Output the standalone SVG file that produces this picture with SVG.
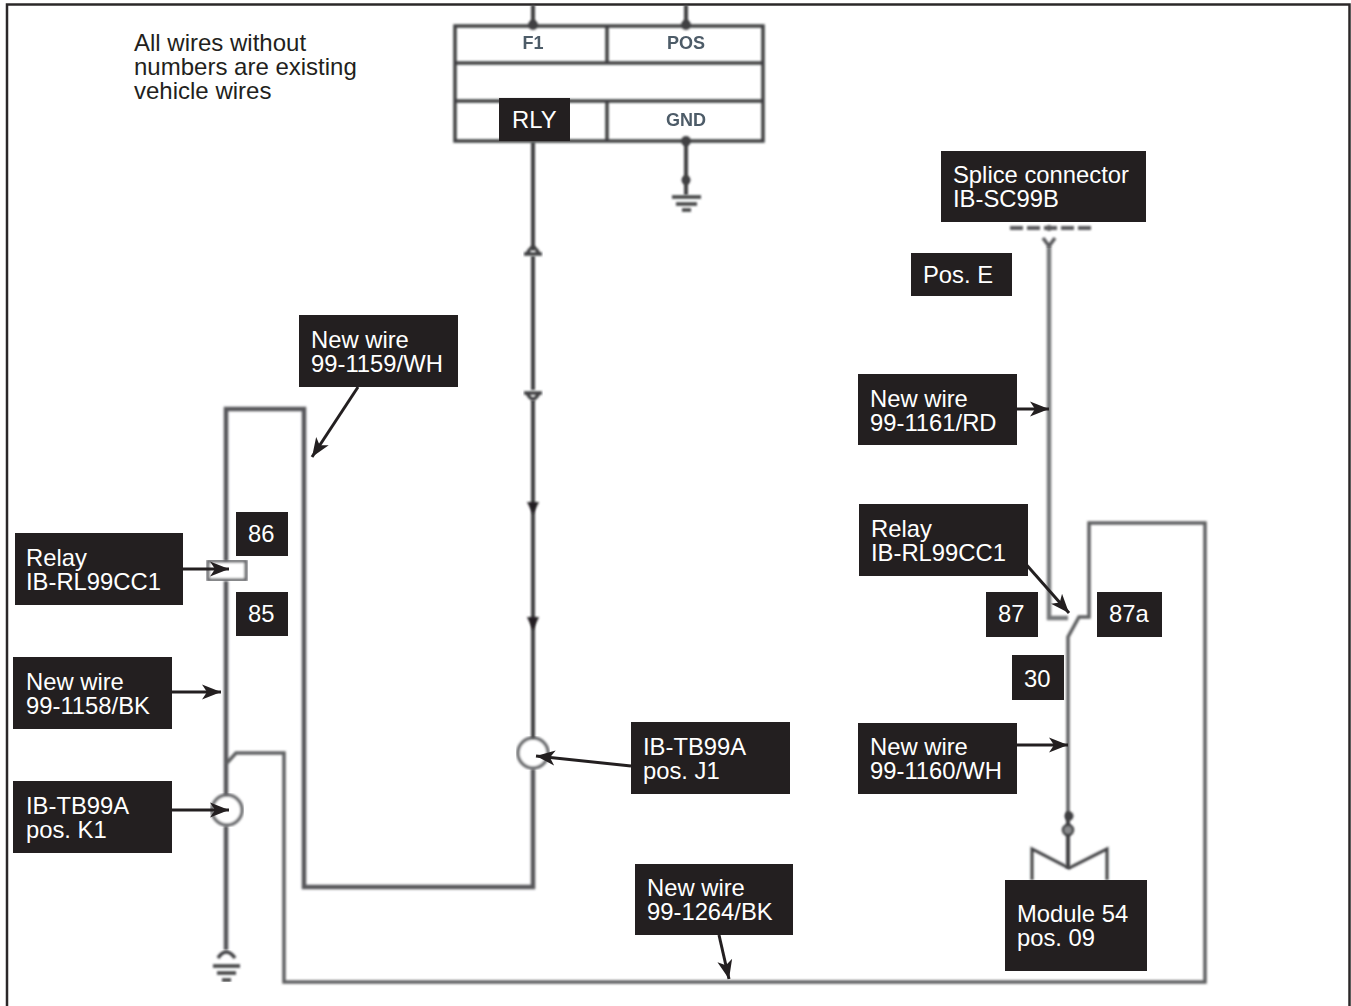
<svg xmlns="http://www.w3.org/2000/svg" width="1351" height="1006" viewBox="0 0 1351 1006">
<defs>
<marker id="ah" markerUnits="userSpaceOnUse" markerWidth="22" markerHeight="16" refX="19" refY="8" orient="auto"><path d="M0 0.500L19 8L0 15.500L5 8Z" fill="#231f20"/></marker>
<filter id="b" x="-5%" y="-5%" width="110%" height="110%"><feGaussianBlur stdDeviation="0.8"/></filter>
<filter id="c" x="-20%" y="-20%" width="140%" height="140%"><feGaussianBlur stdDeviation="0.7"/></filter>
</defs>
<style>
.w{fill:none;stroke:#58595b;stroke-width:4.500}
.g{fill:none;stroke:#77787a;stroke-width:4.500}
.d{fill:none;stroke:#3f4042;stroke-width:4}
.t{fill:none;stroke:#5f6062;stroke-width:3.500}
.l{fill:#231f20}
.x{font-family:"Liberation Sans",Arial,sans-serif;font-size:23.800px;fill:#fff}
.k{font-family:"Liberation Sans",Arial,sans-serif;font-size:24px;fill:#231f20}
.s{font-family:"Liberation Sans",Arial,sans-serif;font-size:18px;font-weight:bold;fill:#4d5b68;text-anchor:middle}
.a{fill:none;stroke:#231f20;stroke-width:3;marker-end:url(#ah)}
</style>
<rect width="1351" height="1006" fill="#fff"/>
<g id="frame"><path d="M7 1006V4.500H1349.500V1006" fill="none" stroke="#2b2829" stroke-width="2.500"/></g>

<g id="term-j1" filter="url(#b)"><circle cx="533" cy="753" r="15" fill="#fff" stroke="#6d6e71" stroke-width="3.500"/></g>
<g id="term-k1" filter="url(#b)"><circle cx="227" cy="810" r="15" fill="#fff" stroke="#6d6e71" stroke-width="3.500"/></g>
<g id="relay-coil" filter="url(#b)"><rect x="208" y="561" width="38" height="19" fill="#fff" stroke="#6d6e71" stroke-width="3.500"/></g>

<g id="connectors">
<g filter="url(#b)">
<path class="d" d="M533 5V26M686 5V26"/>
<path class="d" d="M533 142V250M533 256V390M533 400V738"/>
<path class="d" d="M686 142V195"/>
<path class="w" d="M533 769V887H304V409H226V561M226 581V795M226 826V950"/>
<path class="t" d="M226 764L236 753H284V982H1205V523H1089V617H1079L1068 637V812"/>
<path class="g" d="M1049 246V618H1068"/>
<path class="d" d="M1068 812V868"/>
</g>
<path class="a" d="M358 387L312 457"/>
<path class="a" d="M1016 409H1049"/>
<path class="a" d="M1024 562L1069 613"/>
<path class="a" d="M1016 745H1068"/>
<path class="a" d="M172 692H221"/>
<path class="a" d="M172 810H229"/>
<path class="a" d="M183 569H229"/>
<path class="a" d="M631 766L536 756"/>
<path class="a" d="M719 935L729 979"/>
</g>

<g id="fuse-block">
<g filter="url(#b)">
<path class="d" style="stroke-width:3.500" d="M455 26H763V141H455ZM455 63H763M455 101H763M607 26V63M607 101V141"/>
<circle cx="533" cy="25" r="5" fill="#3f4042"/><circle cx="686" cy="25" r="5" fill="#3f4042"/><circle cx="686" cy="141" r="5" fill="#3f4042"/><circle cx="686" cy="180" r="4.500" fill="#3f4042"/>
<path class="d" style="stroke-width:3.500" d="M672 197H701M676 204H697M682 210H691"/>
</g>
<text class="s" x="533" y="49" filter="url(#c)">F1</text>
<text class="s" x="686" y="49" filter="url(#c)">POS</text>
<text class="s" x="686" y="126" filter="url(#c)">GND</text>
<rect class="l" x="499" y="98" width="71" height="43"/>
<text class="x" x="512" y="128">RLY</text>
</g>

<g id="inline-connectors" filter="url(#b)">
<path class="d" style="stroke-width:3.500" d="M524 254H542M527 254Q533 241 539 254M524 393H542M527 393Q533 405 539 393"/>
<path d="M527 502H539L533 514Z" fill="#231f20"/><path d="M527 617H539L533 630Z" fill="#231f20"/>
</g>

<g id="splice" filter="url(#b)">
<path d="M1010 228H1091" stroke="#58595b" stroke-width="4" stroke-dasharray="13 4" fill="none"/>
<path class="w" style="stroke-width:3.500" d="M1043 238L1049 246L1055 238"/>
<circle cx="1049" cy="228" r="3" fill="#58595b"/>
</g>

<g id="left-ground" filter="url(#b)"><path class="d" style="stroke-width:3.500" d="M218 958Q226 946 235 958M213 966H240M217 973H236M222 980H231"/></g>

<g id="module-connector" filter="url(#b)">
<path class="d" style="stroke-width:3" d="M1032 880V849L1069 868L1107 849V880"/>
<circle cx="1069" cy="816" r="4.500" fill="#3f4042"/><circle cx="1068" cy="830" r="5" fill="#8a8b8d" stroke="#3f4042" stroke-width="2.500"/>
</g>

<g id="note"><text class="k"><tspan x="134" y="51">All wires without</tspan><tspan x="134" y="75">numbers are existing</tspan><tspan x="134" y="99">vehicle wires</tspan></text></g>
<g id="lbl-splice"><rect class="l" x="941" y="151" width="205" height="71"/><text class="x"><tspan x="953" y="183">Splice connector</tspan><tspan x="953" y="207">IB-SC99B</tspan></text></g>
<g id="lbl-pos-e"><rect class="l" x="911" y="253" width="101" height="43"/><text class="x" x="923" y="283">Pos. E</text></g>
<g id="lbl-1159"><rect class="l" x="299" y="315" width="159" height="72"/><text class="x"><tspan x="311" y="348">New wire</tspan><tspan x="311" y="372">99-1159/WH</tspan></text></g>
<g id="lbl-1161"><rect class="l" x="858" y="374" width="159" height="71"/><text class="x"><tspan x="870" y="407">New wire</tspan><tspan x="870" y="431">99-1161/RD</tspan></text></g>
<g id="lbl-relay-r"><rect class="l" x="859" y="504" width="169" height="72"/><text class="x"><tspan x="871" y="537">Relay</tspan><tspan x="871" y="561">IB-RL99CC1</tspan></text></g>
<g id="lbl-relay-l"><rect class="l" x="15" y="533" width="168" height="72"/><text class="x"><tspan x="26" y="566">Relay</tspan><tspan x="26" y="590">IB-RL99CC1</tspan></text></g>
<g id="lbl-86"><rect class="l" x="236" y="512" width="52" height="44"/><text class="x" x="248" y="542">86</text></g>
<g id="lbl-85"><rect class="l" x="236" y="592" width="52" height="44"/><text class="x" x="248" y="622">85</text></g>
<g id="lbl-87"><rect class="l" x="986" y="592" width="52" height="45"/><text class="x" x="998" y="622">87</text></g>
<g id="lbl-87a"><rect class="l" x="1097" y="592" width="65" height="45"/><text class="x" x="1109" y="622">87a</text></g>
<g id="lbl-30"><rect class="l" x="1012" y="655" width="52" height="45"/><text class="x" x="1024" y="687">30</text></g>
<g id="lbl-1158"><rect class="l" x="13" y="657" width="159" height="72"/><text class="x"><tspan x="26" y="690">New wire</tspan><tspan x="26" y="714">99-1158/BK</tspan></text></g>
<g id="lbl-k1"><rect class="l" x="13" y="781" width="159" height="72"/><text class="x"><tspan x="26" y="814">IB-TB99A</tspan><tspan x="26" y="838">pos. K1</tspan></text></g>
<g id="lbl-j1"><rect class="l" x="631" y="722" width="159" height="72"/><text class="x"><tspan x="643" y="755">IB-TB99A</tspan><tspan x="643" y="779">pos. J1</tspan></text></g>
<g id="lbl-1160"><rect class="l" x="858" y="723" width="159" height="71"/><text class="x"><tspan x="870" y="755">New wire</tspan><tspan x="870" y="779">99-1160/WH</tspan></text></g>
<g id="lbl-1264"><rect class="l" x="635" y="864" width="158" height="71"/><text class="x"><tspan x="647" y="896">New wire</tspan><tspan x="647" y="920">99-1264/BK</tspan></text></g>
<g id="lbl-module"><rect class="l" x="1005" y="880" width="142" height="91"/><text class="x"><tspan x="1017" y="922">Module 54</tspan><tspan x="1017" y="946">pos. 09</tspan></text></g>
</svg>
